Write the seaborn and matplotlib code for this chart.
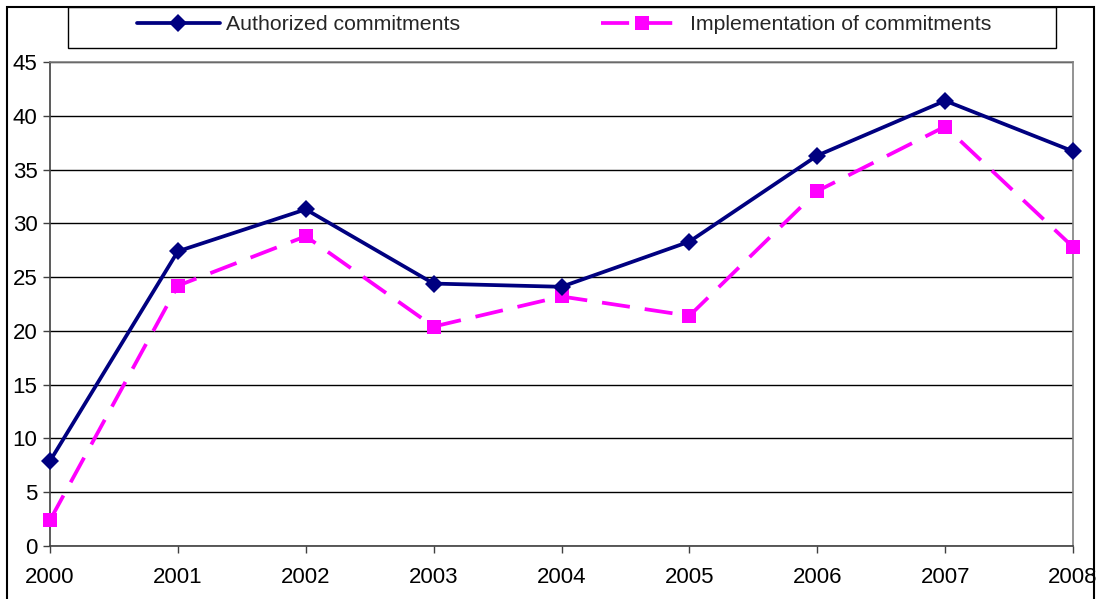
import matplotlib
matplotlib.use("Agg")
import matplotlib.pyplot as plt
import matplotlib.patches as mpatches
import seaborn as sns
import pandas as pd

years = [2000, 2001, 2002, 2003, 2004, 2005, 2006, 2007, 2008]
authorized = [7.9, 27.4, 31.3, 24.4, 24.1, 28.3, 36.3, 41.4, 36.7]
implementation = [2.4, 24.2, 28.8, 20.4, 23.2, 21.4, 33.0, 39.0, 27.8]
series_names = ["Authorized commitments", "Implementation of commitments"]
y_ticks = [0, 5, 10, 15, 20, 25, 30, 35, 40, 45]

sns.set_theme(style="white")
plt.rcParams['font.family'] = ['Liberation Sans', 'DejaVu Sans']

W, H = 1099, 599
fig = plt.figure(figsize=(W / 100, H / 100), dpi=100)
ax = fig.add_axes([50 / W, 1 - 546 / H, (1073 - 50) / W, (546 - 62) / H])

df_a = pd.DataFrame({"year": years, "value": authorized})
df_i = pd.DataFrame({"year": years, "value": implementation})

sns.lineplot(data=df_a, x="year", y="value", ax=ax, color="#000080",
             marker="D", markersize=9, markeredgewidth=0, linewidth=2.7,
             label=series_names[0], zorder=4, clip_on=False)
sns.lineplot(data=df_i, x="year", y="value", ax=ax, color="#FF00FF",
             marker="s", markersize=9.5, markeredgewidth=0, linewidth=2.7,
             label=series_names[1], zorder=3, clip_on=False)
ax.lines[1].set_dashes((7.5, 4))

ax.set_xlim(years[0], years[-1])
ax.set_ylim(0, 45)
ax.set_xticks(years)
ax.set_xticklabels([str(y) for y in years])
ax.set_yticks(y_ticks)
ax.set_yticklabels([str(t) for t in y_ticks])
ax.set_xlabel("")
ax.set_ylabel("")

ax.grid(axis="y", color="black", linewidth=1.0)
ax.grid(axis="x", visible=False)
ax.set_axisbelow(True)

for side in ["top", "right"]:
    ax.spines[side].set_visible(True)
    ax.spines[side].set_color("#808080")
    ax.spines[side].set_linewidth(1.2)
for side in ["left", "bottom"]:
    ax.spines[side].set_visible(True)
    ax.spines[side].set_color("#404040")
    ax.spines[side].set_linewidth(1.2)

ax.tick_params(axis="both", which="major", direction="out", length=5, width=1,
               color="#404040", labelsize=16, labelcolor="black",
               bottom=True, left=True)
ax.tick_params(axis="x", pad=10)
ax.tick_params(axis="y", pad=4)

# legend
leg_handles, leg_labels = ax.get_legend_handles_labels()
ax.get_legend().remove()
leg = fig.legend(leg_handles, leg_labels, loc="center",
                 bbox_to_anchor=(564 / W, 1 - 25 / H), ncol=2, frameon=False,
                 fontsize=15.3, handlelength=3.9, handletextpad=0.3,
                 columnspacing=6.6)

# legend frame
fig.patches.append(mpatches.Rectangle((68 / W, 1 - 48 / H), (1056 - 68) / W, (48 - 7) / H,
                                      transform=fig.transFigure, fill=False,
                                      edgecolor="black", linewidth=1.0, zorder=0))
# outer border
fig.patches.append(mpatches.Rectangle((7 / W, -0.05), (1094 - 7) / W, 1.05 - 7 / H,
                                      transform=fig.transFigure, fill=False,
                                      edgecolor="black", linewidth=1.5, zorder=0))

fig.savefig("out.png", dpi=100)
